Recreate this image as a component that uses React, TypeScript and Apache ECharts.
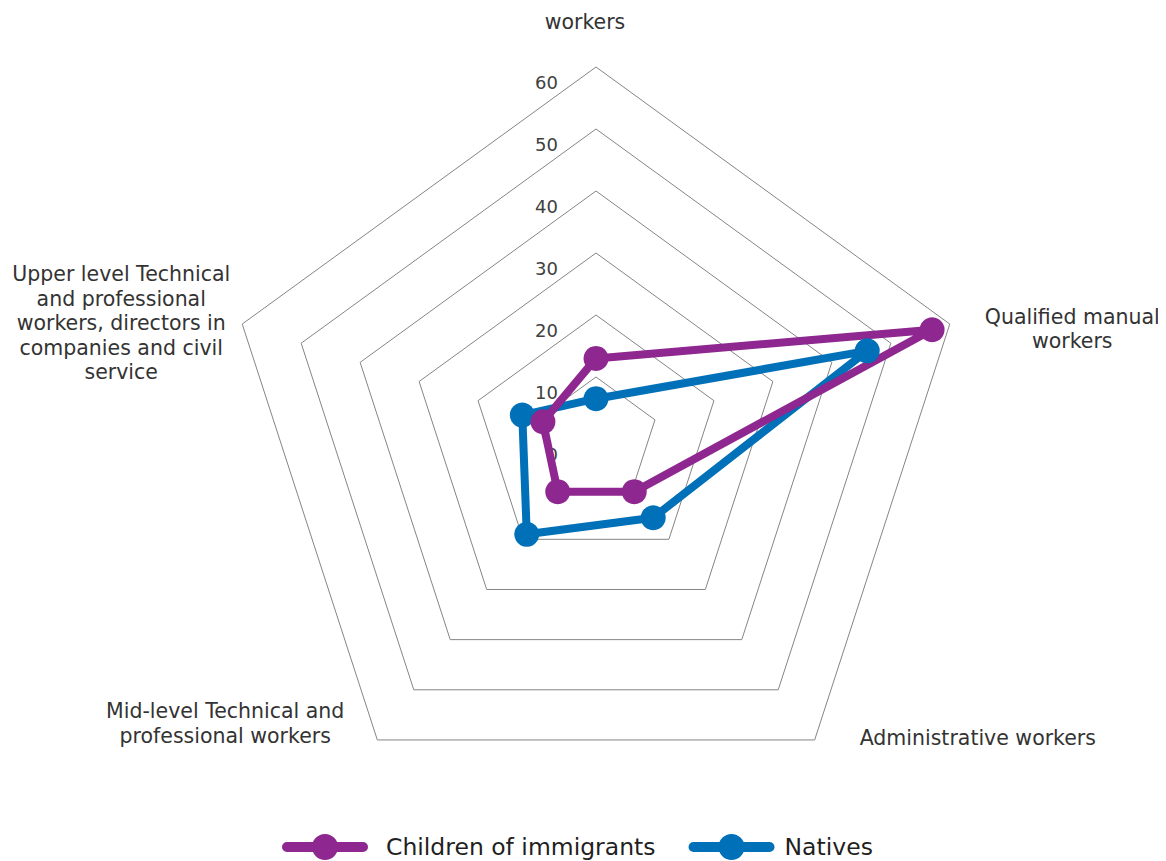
import React, { useEffect, useRef } from "react";
import * as echarts from "echarts";

// Occupational categories, clockwise from the top spoke
const categories: string[] = [
  "workers",
  "Qualified manual\nworkers",
  "Administrative workers",
  "Mid-level Technical and\nprofessional workers",
  "Upper level Technical\nand professional\nworkers, directors in\ncompanies and civil\nservice",
];

const childrenOfImmigrants: number[] = [13, 57, 10.5, 10.5, 9];
const natives: number[] = [6.5, 46, 15.7, 19, 12.5];

const seriesNames: string[] = ["Children of immigrants", "Natives"];
const axisMax = 60;
const axisStep = 10;

const PURPLE = "#8E278F";
const BLUE = "#0070B8";
const FONT = "'DejaVu Sans', 'Noto Sans', sans-serif";

// Per-spoke nudges for the category names: [top, right, bottom, left]
const namePadding: number[][] = [
  [0, 22, 33, 0],
  [10, 0, 0, 35],
  [0, 0, 4, 45],
  [0, 33, 33, 0],
  [0, 12, 2, 0],
];

// Gap between each legend key and its text
const legendTextPadding: number[][] = [
  [0, 0, 0, 13],
  [0, 0, 0, 5],
];

// Line with a round marker, used as the legend key
const legendIcon =
  "path://M5 8 H81 A5 5 0 0 1 81 18 H5 A5 5 0 0 1 5 8 Z M30 13 A13 13 0 1 1 56 13 A13 13 0 1 1 30 13 Z";

export default function App() {
  const ref = useRef<HTMLDivElement>(null);

  useEffect(() => {
    if (!ref.current) return;
    const chart = echarts.init(ref.current, null, { renderer: "svg" });

    // ECharts lays radar spokes out counter-clockwise, so reverse all but the first
    const order = [0, 4, 3, 2, 1];
    const indicator = order.map((i, k) => {
      const ind: any = {
        name: categories[i],
        min: 0,
        max: axisMax,
        nameMoveOverlap: false,
        nameTextStyle: { padding: namePadding[i] },
      };
      if (k === 0) ind.axisLabel = { show: true };
      return ind;
    });
    const pick = (arr: number[]) => order.map((i) => arr[i]);

    chart.setOption({
      animation: false,
      backgroundColor: "#ffffff",
      legend: {
        data: seriesNames.map((name, i) => ({
          name,
          textStyle: { padding: legendTextPadding[i] },
        })),
        left: 274,
        top: 826,
        padding: 0,
        icon: legendIcon,
        itemWidth: 86,
        itemHeight: 26,
        itemGap: 33,
        textStyle: {
          fontFamily: FONT,
          fontSize: 23.5,
          lineHeight: 24,
          color: "#1f1f1f",
        },
      },
      radar: {
        center: [588, 431],
        radius: 372,
        startAngle: 90,
        shape: "polygon",
        splitNumber: axisMax / axisStep,
        indicator,
        nameGap: 0,
        axisName: {
          color: "#333333",
          fontFamily: FONT,
          fontSize: 20.5,
          lineHeight: 24.5,
          formatter: (name: string) =>
            name
              .split("\n")
              .map((l) => `{c|${l}}`)
              .join("\n"),
          rich: {
            c: {
              align: "center",
              fontFamily: FONT,
              fontSize: 20.5,
              lineHeight: 24.5,
              color: "#333333",
            },
          },
        },
        axisLine: { show: false },
        axisTick: { show: false },
        splitArea: { show: false },
        splitLine: { lineStyle: { color: "#858585", width: 1 } },
        axisLabel: {
          show: false,
          margin: 38,
          verticalAlign: "top",
          formatter: "{v|{value}}",
          rich: {
            v: {
              color: "#404040",
              fontFamily: FONT,
              fontSize: 18,
              lineHeight: 22,
              padding: [9, 0, 0, 0],
            },
          },
        },
      },
      series: [
        {
          type: "radar",
          symbol: "circle",
          symbolSize: 25,
          lineStyle: { width: 8 },
          data: [
            {
              name: seriesNames[1],
              value: pick(natives),
              itemStyle: { color: BLUE },
              lineStyle: { color: BLUE, width: 8 },
            },
            {
              name: seriesNames[0],
              value: pick(childrenOfImmigrants),
              itemStyle: { color: PURPLE },
              lineStyle: { color: PURPLE, width: 8 },
            },
          ],
        },
      ],
    });

    return () => chart.dispose();
  }, []);

  return <div ref={ref} style={{ width: 1158, height: 853 }} />;
}
